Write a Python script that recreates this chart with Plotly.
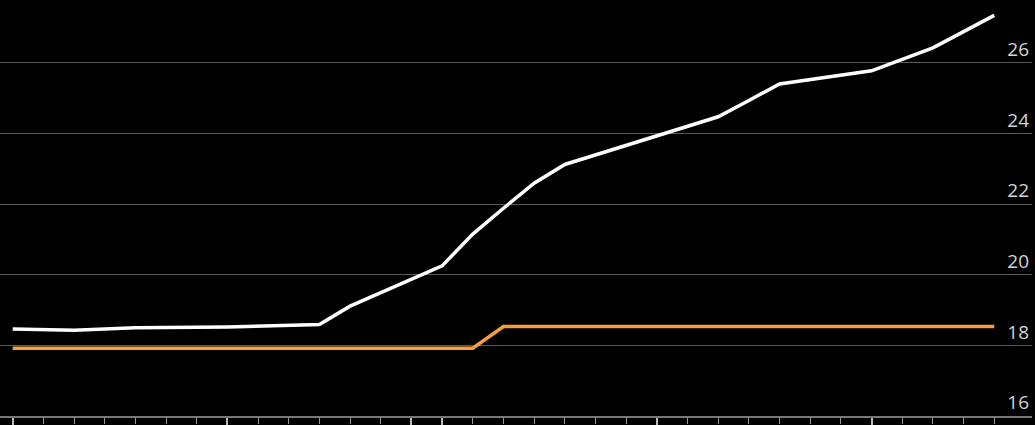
import plotly.graph_objects as go

# Data (x = period index, y = value)
white_x = [0, 2, 4, 7, 10, 11, 14, 15, 16, 17, 18, 23, 24, 25, 28, 30, 31, 32]
white_y = [18.46, 18.43, 18.50, 18.52, 18.59, 19.11, 20.25, 21.15, 21.88, 22.59, 23.12,
           24.47, 24.93, 25.40, 25.77, 26.42, 26.88, 27.34]

orange_x = [0, 15, 16, 32]
orange_y = [17.92, 17.92, 18.53, 18.53]

y_ticks = [16, 18, 20, 22, 24, 26]
major_x_ticks = [0, 7, 13, 14, 21, 28]

fig = go.Figure()
fig.add_trace(go.Scatter(x=orange_x, y=orange_y, mode="lines",
                         line=dict(color="#f2a13a", width=3.5), showlegend=False))
fig.add_trace(go.Scatter(x=white_x, y=white_y, mode="lines",
                         line=dict(color="#ffffff", width=3.5), showlegend=False))

fig.update_layout(
    width=1035, height=425,
    margin=dict(l=0, r=3, t=0, b=9),
    paper_bgcolor="#000000", plot_bgcolor="#000000",
    xaxis=dict(
        range=[-0.413, 33.23],
        showgrid=False, zeroline=False,
        showline=True, linecolor="#777777", linewidth=1.5,
        tickmode="array", tickvals=major_x_ticks, ticktext=[""] * len(major_x_ticks),
        ticks="outside", ticklen=10, tickcolor="#bbbbbb", tickwidth=1.5,
        minor=dict(dtick=1, tick0=0, ticks="outside", ticklen=6,
                   tickcolor="#999999", tickwidth=1, showgrid=False),
    ),
    yaxis=dict(
        side="right",
        range=[16, 27.775],
        tickvals=y_ticks,
        ticktext=[str(v) for v in y_ticks],
        ticklabelposition="inside top",
        showgrid=True, gridcolor="#5a5a5a", gridwidth=1,
        zeroline=False, showline=False, ticks="",
        tickfont=dict(family="Open Sans", size=19, color="#d4d4d4"),
    ),
)

fig.write_html(
    "out.html",
    config={"displayModeBar": False},
    post_script="document.body.style.margin='0';document.body.style.background='#000';",
)
